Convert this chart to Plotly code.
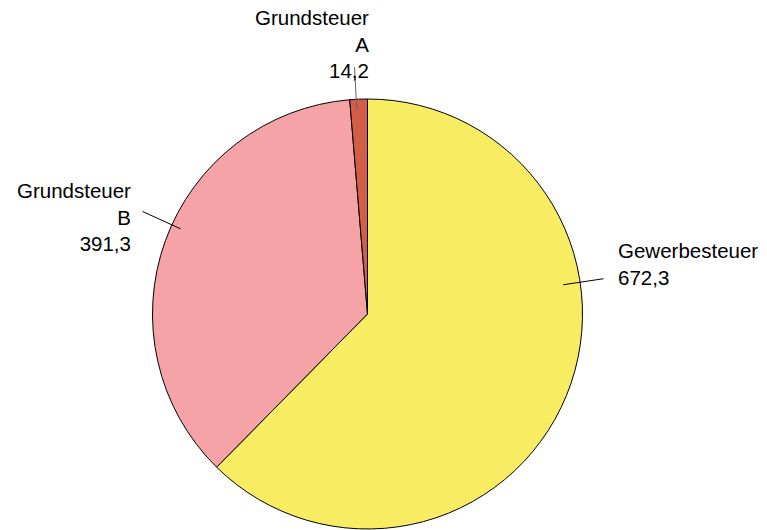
import math
import plotly.graph_objects as go

labels = ["Gewerbesteuer", "Grundsteuer B", "Grundsteuer A"]
values = [672.3, 391.3, 14.2]
label_lines = [["Gewerbesteuer"], ["Grundsteuer", "B"], ["Grundsteuer", "A"]]
colors = ["#F8ED62", "#F5A3A7", "#D35E48"]

W, H = 767, 530
ml, mr, mt, mb = 0, 32, 99, 1
pw, ph = W - ml - mr, H - mt - mb
cx, cy = ml + pw / 2, mt + ph / 2
R = min(pw, ph) / 2


def fmt(v):
    return f"{v:.1f}".replace(".", ",")


def to_paper(px, py):
    return (px - ml) / pw, 1 - (py - mt) / ph


def polar(angle_deg, rf):
    a = math.radians(angle_deg)
    return cx + R * rf * math.sin(a), cy - R * rf * math.cos(a)


fig = go.Figure(go.Pie(
    labels=labels, values=values, sort=False, direction="clockwise", rotation=0,
    marker=dict(colors=colors, line=dict(color="black", width=1)),
    textinfo="none", hoverinfo="label+value", showlegend=False,
    domain=dict(x=[0, 1], y=[0, 1]),
))

# leader line angles (deg clockwise from 12 o'clock) and label placement
leader_angle = [81.5, 294.5, 357.0]
leader_in, leader_out = [0.92, 0.955, 0.95], [1.11, 1.15, 1.15]
line_colors = ["black", "black", "#666666"]
text_anchor = [("left", 616, 237), ("right", 133, 177), ("right", 371, 4)]

shapes, annotations = [], []
for i, v in enumerate(values):
    x0, y0 = to_paper(*polar(leader_angle[i], leader_in[i]))
    x1, y1 = to_paper(*polar(leader_angle[i], leader_out[i]))
    shapes.append(dict(type="line", xref="paper", yref="paper", x0=x0, y0=y0, x1=x1, y1=y1,
                       line=dict(color=line_colors[i], width=1)))
    side, tx, ty = text_anchor[i]
    px, py = to_paper(tx, ty)
    annotations.append(dict(
        xref="paper", yref="paper", x=px, y=py, showarrow=False,
        xanchor=side, yanchor="top", align=side,
        text="<br>".join(label_lines[i] + [fmt(v)]),
        font=dict(family="Liberation Sans, Arial, sans-serif", size=20.5, color="black"),
    ))

fig.update_layout(
    width=W, height=H, margin=dict(l=ml, r=mr, t=mt, b=mb),
    paper_bgcolor="white", plot_bgcolor="white",
    shapes=shapes, annotations=annotations,
)
fig.write_html("out.html", config={"displayModeBar": False},
               post_script="document.body.style.margin='0';")
